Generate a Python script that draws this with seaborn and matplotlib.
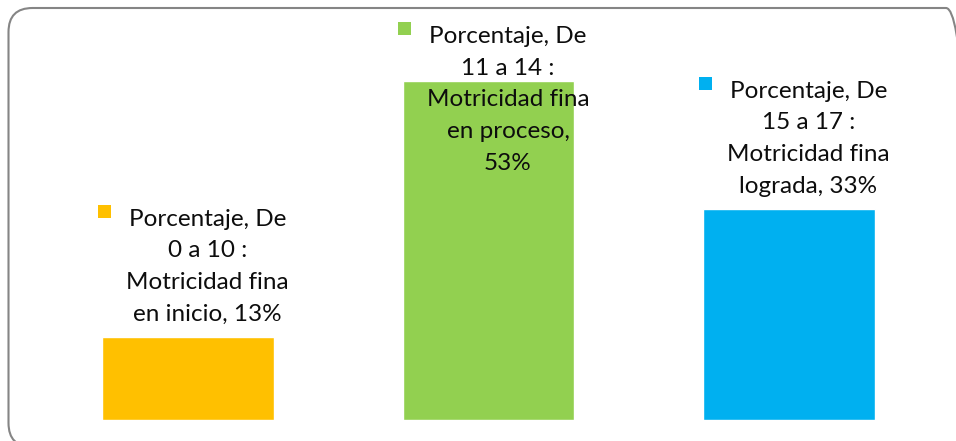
import matplotlib
matplotlib.use("Agg")
import matplotlib.pyplot as plt
import seaborn as sns
from matplotlib.patches import FancyBboxPatch, Rectangle
from matplotlib.transforms import IdentityTransform

# ---- data ----
categories = ["De 0 a 10 :\nMotricidad fina\nen inicio", "De 11 a 14 :\nMotricidad fina\nen proceso", "De 15 a 17 :\nMotricidad fina\nlograda"]
values = [13, 53, 33]
series_name = "Porcentaje"
label_texts = [
    "Porcentaje, De\n0 a 10 :\nMotricidad fina\nen inicio, 13%",
    "Porcentaje, De\n11 a 14 :\nMotricidad fina\nen proceso,\n53%",
    "Porcentaje, De\n15 a 17 :\nMotricidad fina\nlograda, 33%",
]
colors = ["#FFC000", "#92D050", "#00B0F0"]

sns.set_theme(style="white")
plt.rcParams['font.family'] = ['Lato', 'DejaVu Sans']

W, H, DPI = 956, 441, 100
fig = plt.figure(figsize=(W / DPI, H / DPI), dpi=DPI)
fig.patch.set_facecolor("white")

ax = fig.add_axes([37.75 / W, 21 / H, 901.5 / W, 383.8 / H])
sns.barplot(x=categories, y=values, hue=categories, palette=colors, width=0.57,
            legend=False, ax=ax, saturation=1)
ax.set_ylim(0, 60)
ax.set_xlim(-0.5, 2.5)
ax.axis("off")

# rounded frame
frame = FancyBboxPatch((0.085, -0.06), 9.615, 4.39,
                       boxstyle="round,pad=0,rounding_size=0.24",
                       transform=fig.dpi_scale_trans, facecolor="none",
                       edgecolor="#858585", linewidth=1.5)
fig.patches.append(frame)

fs = 17.5
texts = []
for i, (v, t) in enumerate(zip(values, label_texts)):
    txt = ax.annotate(t, xy=(i, v), xytext=(19.5 * 72 / DPI, 12 * 72 / DPI),
                      textcoords="offset points", ha="center", va="bottom",
                      fontsize=fs, color="#0d0d0d", linespacing=1.63,
                      annotation_clip=False)
    texts.append(txt)

fig.canvas.draw()
renderer = fig.canvas.get_renderer()
top_limit = H - 26  # display px (from bottom)
for txt in texts:
    bb = txt.get_window_extent(renderer)
    if bb.y1 > top_limit:
        shift = (bb.y1 - top_limit) * 72 / DPI
        x0, y0 = txt.xyann
        txt.xyann = (x0, y0 - shift)
fig.canvas.draw()
for txt, c in zip(texts, colors):
    bb = txt.get_window_extent(renderer)
    nlines = txt.get_text().count("\n") + 1
    lh = bb.height / nlines
    cy = bb.y1 - lh / 2 + 12
    cx = bb.x0 - 22
    s = 13
    fig.patches.append(Rectangle((cx - s / 2, cy - s / 2), s, s, transform=IdentityTransform(),
                                 facecolor=c, edgecolor="none"))

fig.savefig("out.png", dpi=DPI)
